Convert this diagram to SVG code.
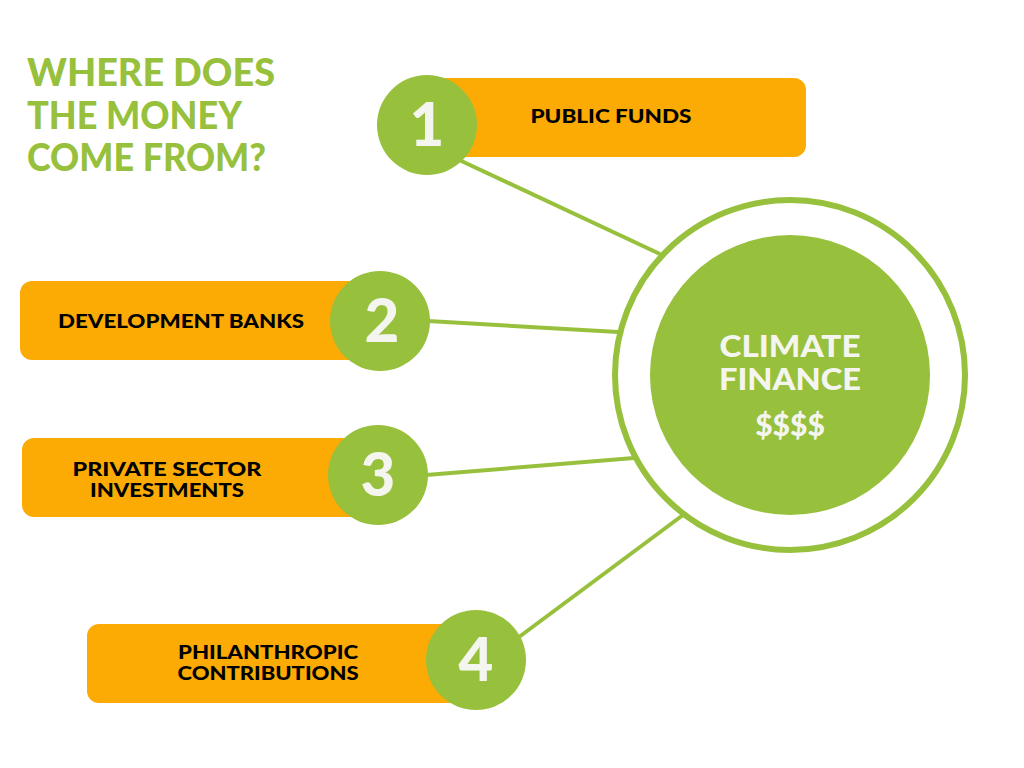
<svg xmlns="http://www.w3.org/2000/svg" width="1024" height="768" viewBox="0 0 1024 768">
<style>
.title{font-family:"Lato","Liberation Sans",sans-serif;font-weight:900;font-size:37px;fill:#97c03c}
.box{fill:#fcaa04}
.num{fill:#97c03c}
.numt{font-family:"Lato","Liberation Sans",sans-serif;font-weight:900;font-size:60px;fill:#f5f5f0;text-anchor:middle}
.lbl{font-family:"Lato","Liberation Sans",sans-serif;font-weight:900;font-size:19px;fill:#000;text-anchor:middle}
.conn{stroke:#97c03c;stroke-width:4;fill:none}
.ctr{font-family:"Lato","Liberation Sans",sans-serif;font-weight:900;font-size:30px;fill:#f5f5f0;text-anchor:middle}
</style>
<rect width="1024" height="768" fill="#ffffff"/>
<g id="title">
<text class="title" x="27" y="86" textLength="248" lengthAdjust="spacingAndGlyphs">WHERE DOES</text>
<text class="title" x="27" y="129" textLength="215" lengthAdjust="spacingAndGlyphs">THE MONEY</text>
<text class="title" x="27" y="171" textLength="239" lengthAdjust="spacingAndGlyphs">COME FROM?</text>
</g>
<g id="connectors">
<line class="conn" x1="455" y1="158" x2="660" y2="254"/>
<line class="conn" x1="428" y1="321" x2="618" y2="332"/>
<line class="conn" x1="426" y1="475" x2="634" y2="458"/>
<line class="conn" x1="515" y1="640" x2="683" y2="515"/>
</g>
<g id="climate-finance">
<circle cx="790" cy="375" r="175" fill="#ffffff" stroke="#97c03c" stroke-width="6"/>
<circle cx="790" cy="375" r="140" fill="#97c03c"/>
<text class="ctr" x="790" y="357" textLength="141" lengthAdjust="spacingAndGlyphs">CLIMATE</text>
<text class="ctr" x="790" y="390" textLength="142" lengthAdjust="spacingAndGlyphs">FINANCE</text>
<text class="ctr" x="790" y="436">$$$$</text>
</g>
<g id="node1">
<rect class="box" x="420" y="78" width="386" height="79" rx="12"/>
<circle class="num" cx="427" cy="125" r="50"/>
<text class="numt" x="427" y="146">1</text>
<text class="lbl" x="611" y="123" textLength="161" lengthAdjust="spacingAndGlyphs">PUBLIC FUNDS</text>
</g>
<g id="node2">
<rect class="box" x="20" y="281" width="370" height="79" rx="12"/>
<circle class="num" cx="380" cy="321" r="50"/>
<text class="numt" x="382" y="342">2</text>
<text class="lbl" x="181" y="328" textLength="246" lengthAdjust="spacingAndGlyphs">DEVELOPMENT BANKS</text>
</g>
<g id="node3">
<rect class="box" x="22" y="438" width="370" height="79" rx="12"/>
<circle class="num" cx="378" cy="475" r="50"/>
<text class="numt" x="378" y="496">3</text>
<text class="lbl" x="167" y="476" textLength="189" lengthAdjust="spacingAndGlyphs">PRIVATE SECTOR</text>
<text class="lbl" x="167" y="497" textLength="154" lengthAdjust="spacingAndGlyphs">INVESTMENTS</text>
</g>
<g id="node4">
<rect class="box" x="87" y="624" width="400" height="79" rx="12"/>
<circle class="num" cx="476" cy="660" r="50"/>
<text class="numt" x="476" y="681">4</text>
<text class="lbl" x="268" y="659" textLength="180" lengthAdjust="spacingAndGlyphs">PHILANTHROPIC</text>
<text class="lbl" x="268" y="680" textLength="181" lengthAdjust="spacingAndGlyphs">CONTRIBUTIONS</text>
</g>
</svg>
